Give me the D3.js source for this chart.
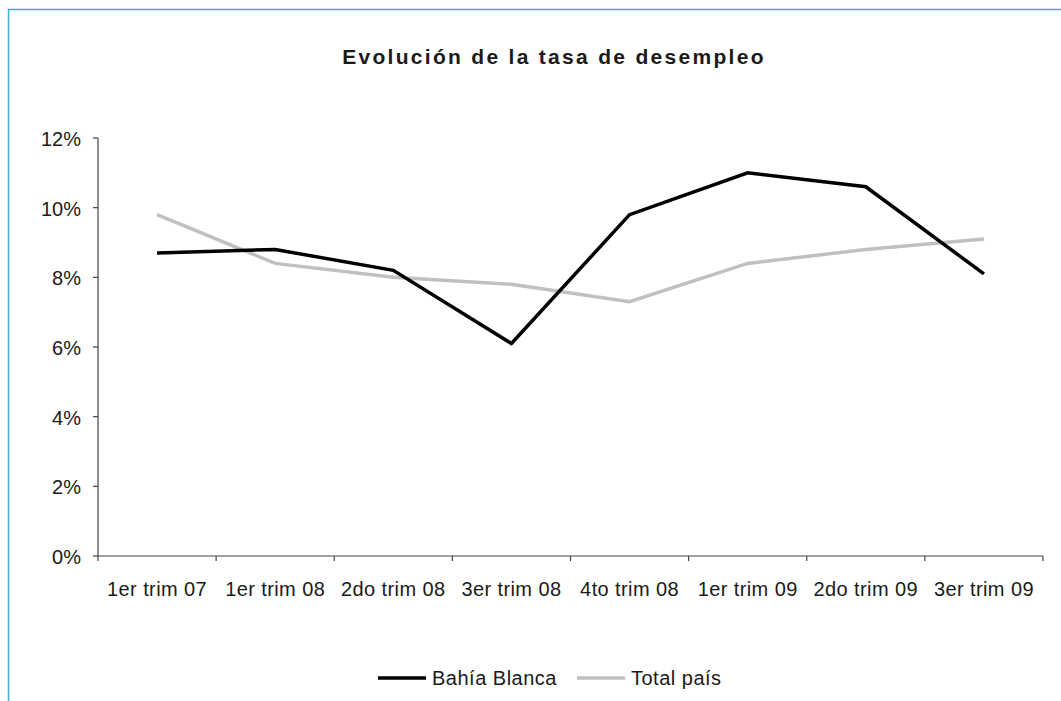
<!DOCTYPE html>
<html><head><meta charset="utf-8">
<script src="https://cdn.jsdelivr.net/npm/d3@7"></script>
<style>
body{margin:0;background:#fff;}
text{font-family:"Liberation Sans",Arial,Helvetica,sans-serif;fill:#1a1a1a;}
</style></head>
<body><svg id="c" width="1061" height="701"></svg>
<script>
const categories = ["1er trim 07","1er trim 08","2do trim 08","3er trim 08","4to trim 08","1er trim 09","2do trim 09","3er trim 09"];
const bahiaBlanca = [8.7, 8.8, 8.2, 6.1, 9.8, 11.0, 10.6, 8.1];
const totalPais = [9.8, 8.4, 8.0, 7.8, 7.3, 8.4, 8.8, 9.1];
const yTicks = [0, 2, 4, 6, 8, 10, 12];
const seriesNames = ["Bahía Blanca", "Total país"];
const seriesColors = ["#000000", "#c0c0c0"];

const svg = d3.select("#c");
// frame
svg.append("path").attr("d","M8.5,701 L8.5,9.5 L1061,9.5").attr("fill","none").attr("stroke","#3aafd2").attr("stroke-width",1.5);

svg.append("text").attr("x",554).attr("y",64).attr("text-anchor","middle")
  .style("font-size","21px").style("font-weight","bold").style("letter-spacing","2.3px")
  .text("Evolución de la tasa de desempleo");

const x = d3.scaleBand().domain(categories).range([98,1043]);
const y = d3.scaleLinear().domain([0,12]).range([556,138]);

const gx = svg.append("g").attr("transform","translate(0,556)");
gx.append("line").attr("x1",98).attr("x2",1043).attr("stroke","#444").attr("stroke-width",1.2);
const edges = categories.map(c=>x(c)).concat([x.range()[1]]);
gx.selectAll("line.t").data(edges).enter().append("line").attr("class","t")
  .attr("x1",d=>d).attr("x2",d=>d).attr("y1",0).attr("y2",5).attr("stroke","#444").attr("stroke-width",1.2);
gx.selectAll("text").data(categories).enter().append("text")
  .attr("x",d=>x(d)+x.bandwidth()/2).attr("y",40).attr("text-anchor","middle")
  .style("font-size","20px").style("letter-spacing","0.4px").text(d=>d);

const gy = svg.append("g");
gy.append("line").attr("x1",98).attr("x2",98).attr("y1",138).attr("y2",556).attr("stroke","#444").attr("stroke-width",1.2);
gy.selectAll("line.t").data(yTicks).enter().append("line").attr("class","t")
  .attr("x1",93).attr("x2",98).attr("y1",d=>y(d)).attr("y2",d=>y(d)).attr("stroke","#444").attr("stroke-width",1.2);
gy.selectAll("text").data(yTicks).enter().append("text")
  .attr("x",81).attr("y",d=>y(d)+8).attr("text-anchor","end")
  .style("font-size","20px").text(d=>d+"%");

const line = d3.line().x((d,i)=>x(categories[i])+x.bandwidth()/2).y(d=>y(d));
[totalPais, bahiaBlanca].forEach((s,k)=>{
  const col = k===0 ? seriesColors[1] : seriesColors[0];
  svg.append("path").datum(s).attr("d",line).attr("fill","none").attr("stroke",col)
    .attr("stroke-width",3.5).attr("stroke-linejoin","miter");
});

// legend
const leg = [{n:seriesNames[0],c:seriesColors[0],x:378},{n:seriesNames[1],c:seriesColors[1],x:577}];
leg.forEach(l=>{
  svg.append("line").attr("x1",l.x).attr("x2",l.x+48).attr("y1",678).attr("y2",678).attr("stroke",l.c).attr("stroke-width",3.5);
  svg.append("text").attr("x",l.x+54).attr("y",685).style("font-size","20px").style("letter-spacing","0.5px").text(l.n);
});
</script></body></html>
